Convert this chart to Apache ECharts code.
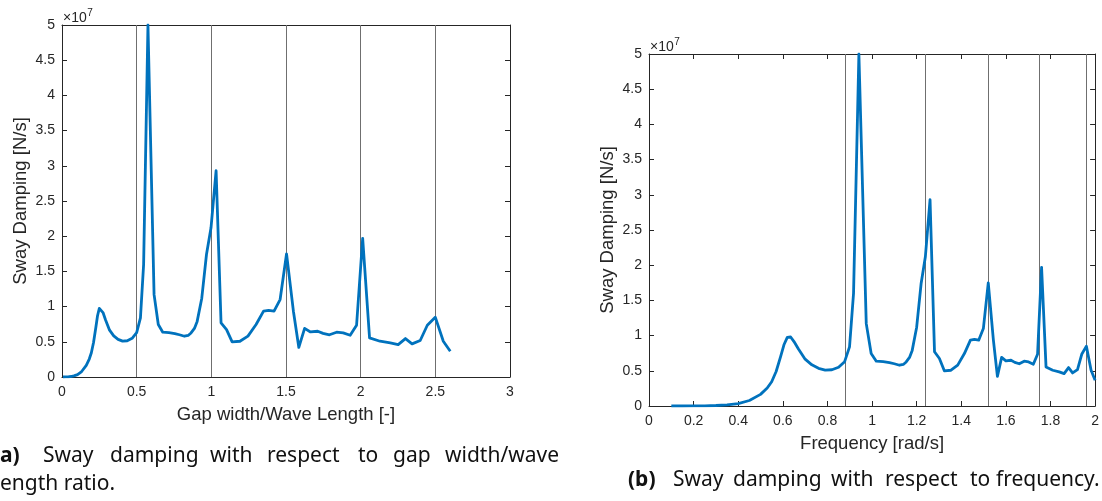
<!DOCTYPE html>
<html>
<head>
<meta charset="utf-8">
<title>Sway damping</title>
<script src="https://cdn.jsdelivr.net/npm/echarts@6/dist/echarts.min.js"></script>
<style>
  html, body { margin: 0; padding: 0; background: #ffffff; }
  #chart { width: 1102px; height: 501px; }
</style>
</head>
<body>
<div id="chart"></div>
<script>
// Wave frequency of each computed point [rad/s]
const FREQ = [
  0.10, 0.15, 0.20, 0.25, 0.30, 0.35, 0.40, 0.45, 0.50, 0.53,
  0.55, 0.57, 0.59, 0.605, 0.62, 0.635, 0.65, 0.67, 0.70, 0.73,
  0.76, 0.79, 0.82, 0.85, 0.877, 0.899, 0.917, 0.941, 0.974, 0.996,
  1.019, 1.05, 1.078, 1.10, 1.123, 1.14, 1.153, 1.168, 1.18, 1.20,
  1.22, 1.239, 1.26, 1.28, 1.302, 1.324, 1.354, 1.384, 1.414, 1.441,
  1.459, 1.478, 1.499, 1.521, 1.544, 1.562, 1.581, 1.60, 1.623, 1.64,
  1.66, 1.682, 1.702, 1.723, 1.742, 1.76, 1.78, 1.81, 1.839, 1.861,
  1.881, 1.899, 1.921, 1.94, 1.961, 1.982, 2.00
];

// Gap width / wave length ratio of the same points [-]
const GAP_RATIO = [
  0.0065, 0.0146, 0.026, 0.0406, 0.0585, 0.0796, 0.104, 0.1316, 0.1625, 0.1826,
  0.1966, 0.2112, 0.2263, 0.2379, 0.2499, 0.2621, 0.2746, 0.2918, 0.3185, 0.3464,
  0.3754, 0.4057, 0.4371, 0.4696, 0.4999, 0.5253, 0.5466, 0.5756, 0.6166, 0.6448,
  0.6749, 0.7166, 0.7554, 0.7865, 0.8198, 0.8447, 0.8641, 0.8868, 0.9051, 0.936,
  0.9675, 0.9978, 1.0319, 1.065, 1.1019, 1.1394, 1.1917, 1.2451, 1.2996, 1.3497,
  1.3837, 1.4199, 1.4605, 1.5037, 1.5496, 1.5859, 1.6247, 1.664, 1.7122, 1.7482,
  1.7911, 1.8389, 1.8829, 1.9297, 1.9725, 2.0134, 2.0595, 2.1295, 2.1982, 2.2512,
  2.2998, 2.3441, 2.3987, 2.4463, 2.4996, 2.5534, 2.60
];

// Sway damping [x 1e7 N/s]
const DAMPING = [
  0.000, 0.000, 0.001, 0.003, 0.007, 0.016, 0.034, 0.078, 0.165, 0.255,
  0.345, 0.49, 0.70, 0.87, 0.975, 0.98, 0.915, 0.81, 0.665, 0.585,
  0.535, 0.51, 0.515, 0.55, 0.63, 0.84, 1.60, 5.00, 1.17, 0.745,
  0.636, 0.63, 0.617, 0.60, 0.579, 0.59, 0.626, 0.69, 0.79, 1.12,
  1.74, 2.12, 2.93, 0.77, 0.674, 0.50, 0.508, 0.58, 0.745, 0.935,
  0.945, 0.935, 1.10, 1.75, 0.935, 0.42, 0.69, 0.64, 0.65, 0.62,
  0.60, 0.636, 0.626, 0.593, 0.735, 1.97, 0.555, 0.508, 0.484, 0.46,
  0.546, 0.47, 0.518, 0.735, 0.85, 0.508, 0.366
];

// Reference verticals: integer and half-integer gap ratios
const RATIO_MARKS = [0.5, 1.0, 1.5, 2.0, 2.5];
const FREQ_MARKS = [0.877, 1.240, 1.519, 1.754, 1.961];

const CAPTION_A_LINE1 = ['(a)', 'Sway', 'damping', 'with', 'respect', 'to', 'gap', 'width/wave'];
const CAPTION_A_LINE2 = 'length ratio.';
const CAPTION_B = ['(b)', 'Sway', 'damping', 'with', 'respect', 'to', 'frequency.'];

const INK = '#262626';
const BLUE = '#0072BD';
const AXIS_FONT = 'Liberation Sans';
const CAP_FONT = 'Noto Sans';
const CAP_INK = '#111111';

const chart = echarts.init(document.getElementById('chart'), null, { renderer: 'canvas' });

function zip(xs, ys) { return xs.map((x, i) => [x, ys[i]]); }

function measure(text, font) {
  const c = document.createElement('canvas').getContext('2d');
  c.font = font;
  return c.measureText(text).width;
}

function xAxes(grid, max, interval, title) {
  const base = {
    type: 'value', gridIndex: grid, min: 0, max: max, interval: interval,
    axisLine: { show: true, onZero: false, lineStyle: { color: INK, width: 1 } },
    axisTick: { show: true, inside: true, length: 5, lineStyle: { color: INK } },
    splitLine: { show: false }
  };
  return [
    Object.assign({}, base, {
      position: 'bottom',
      axisLabel: { color: INK, fontFamily: AXIS_FONT, fontSize: 14, margin: 8 },
      name: title, nameLocation: 'middle', nameGap: 28,
      nameTextStyle: { color: INK, fontFamily: AXIS_FONT, fontSize: 18.5 }
    }),
    Object.assign({}, base, { position: 'top', axisLabel: { show: false } })
  ];
}

function yAxes(grid) {
  const base = {
    type: 'value', gridIndex: grid, min: 0, max: 5, interval: 0.5,
    axisLine: { show: true, onZero: false, lineStyle: { color: INK, width: 1 } },
    axisTick: { show: true, inside: true, length: 5, lineStyle: { color: INK } },
    splitLine: { show: false }
  };
  return [
    Object.assign({}, base, {
      position: 'left',
      axisLabel: { color: INK, fontFamily: AXIS_FONT, fontSize: 14, margin: 7 },
      name: 'Sway Damping [N/s]', nameLocation: 'middle', nameGap: 32,
      nameTextStyle: { color: INK, fontFamily: AXIS_FONT, fontSize: 18.5 }
    }),
    Object.assign({}, base, { position: 'right', axisLabel: { show: false } })
  ];
}

function markLines(values) {
  return {
    silent: true, symbol: 'none', z: 1,
    label: { show: false },
    lineStyle: { color: '#6f6f6f', width: 1, type: 'solid' },
    data: values.map(v => ({ xAxis: v }))
  };
}

// "×10^7" multiplier shown above each y axis
function exponentLabel(x, y) {
  const base = '×10';
  const w = measure(base, '14px ' + AXIS_FONT);
  return [
    { type: 'text', x: x, y: y,
      style: { text: base, fill: INK, fontFamily: AXIS_FONT, fontSize: 14, verticalAlign: 'middle' } },
    { type: 'text', x: x + w + 0.5, y: y - 5,
      style: { text: '7', fill: INK, fontFamily: AXIS_FONT, fontSize: 10, verticalAlign: 'middle' } }
  ];
}

const capSize = 21;
const capNormal = capSize + 'px ' + CAP_FONT;
const capBold = 'bold ' + capSize + 'px ' + CAP_FONT;

// Word left edges of the justified caption lines
const lineOneX = [-measure('(', capBold), 43, 110, 210, 267, 358, 393, 445];
const captionBX = [628, 673, 733, 831, 885, 970, 996];

function captionWord(text, x, y, bold) {
  return {
    type: 'text', x: x, y: y,
    style: {
      text: text, fill: CAP_INK, fontFamily: CAP_FONT, fontSize: capSize,
      fontWeight: bold ? 'bold' : 'normal', verticalAlign: 'middle'
    }
  };
}

const graphics = [].concat(exponentLabel(63, 18), exponentLabel(650, 47));
CAPTION_A_LINE1.forEach((w, i) => graphics.push(captionWord(w, lineOneX[i], 456, i === 0)));
graphics.push(captionWord(CAPTION_A_LINE2, -measure('l', capNormal), 484, false));
CAPTION_B.forEach((w, i) => graphics.push(captionWord(w, captionBX[i], 480, i === 0)));

const option = {
  animation: false,
  backgroundColor: '#ffffff',
  grid: [
    { left: 62, top: 25, width: 448, height: 352 },
    { left: 649, top: 54, width: 447, height: 352 }
  ],
  xAxis: [].concat(
    xAxes(0, 3, 0.5, 'Gap width/Wave Length [-]'),
    xAxes(1, 2, 0.2, 'Frequency [rad/s]')
  ),
  yAxis: [].concat(yAxes(0), yAxes(1)),
  series: [
    {
      type: 'line', xAxisIndex: 0, yAxisIndex: 0, z: 3,
      data: zip(GAP_RATIO, DAMPING), showSymbol: false, clip: true,
      lineStyle: { color: BLUE, width: 2.8, join: 'round' },
      markLine: markLines(RATIO_MARKS)
    },
    {
      type: 'line', xAxisIndex: 2, yAxisIndex: 2, z: 3,
      data: zip(FREQ, DAMPING), showSymbol: false, clip: true,
      lineStyle: { color: BLUE, width: 2.8, join: 'round' },
      markLine: markLines(FREQ_MARKS)
    }
  ],
  graphic: graphics
};

chart.setOption(option);
</script>
</body>
</html>
